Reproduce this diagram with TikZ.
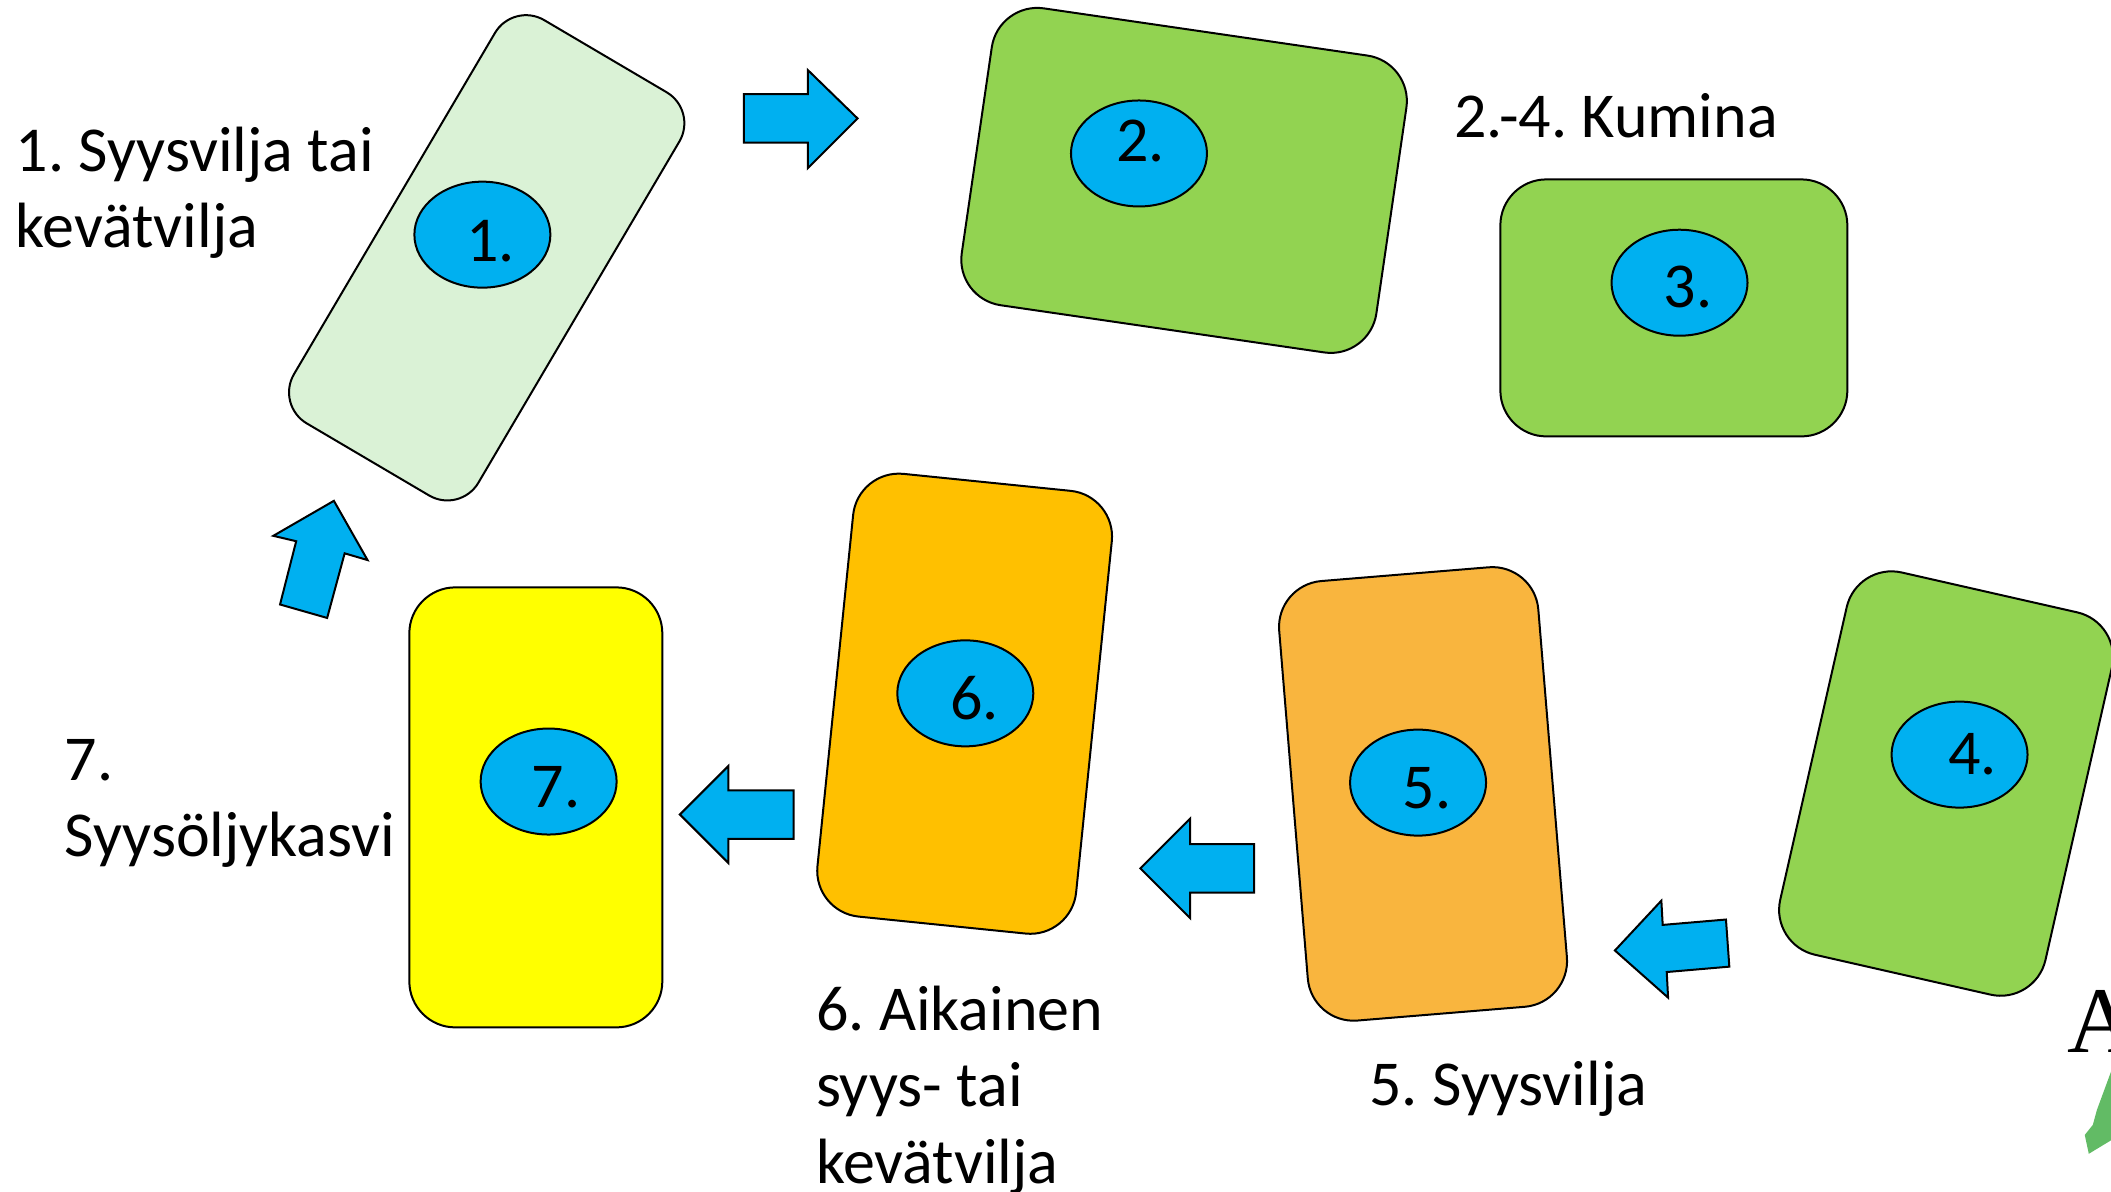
\documentclass[tikz,border=0pt]{standalone}
\usepackage{fontspec}
\setmainfont{Carlito}
\newfontfamily\logofont{Liberation Serif}
\definecolor{cblue}{HTML}{00B0F0}
\definecolor{cpale}{HTML}{DAF2D6}
\definecolor{cgreen}{HTML}{92D351}
\definecolor{corange}{HTML}{F9B53E}
\definecolor{camber}{HTML}{FFC000}
\definecolor{cyel}{HTML}{FFFF00}
\definecolor{clogo}{HTML}{62BB65}
\tikzset{
  field/.style={draw=black,line width=2pt,rounded corners=46pt,inner sep=0pt},
  spot/.style={ellipse,draw=black,line width=2pt,fill=cblue,minimum width=136pt,minimum height=106pt,inner sep=0pt},
  numeral/.style={inner sep=0pt,font=\fontsize{64}{72}\selectfont},
  caption/.style={inner sep=0pt,anchor=north west,align=left,font=\fontsize{64}{76.6}\selectfont},
  blockarrow/.style={draw=black,line width=2pt,fill=cblue,line join=miter}
}
\usetikzlibrary{shapes.geometric}
\begin{document}
\frenchspacing
\begin{tikzpicture}[x=1.34630pt,y=-1.34630pt]
\useasboundingbox (0,0) rectangle (1568,884.65);
\clip (0,0) rectangle (1568,884.65);
% fields
\node[field,fill=cpale,rounded corners=36pt,minimum width=214pt,minimum height=468pt,rotate=-30.5] (f1) at (361.5,191.5) {};
\node[field,fill=cgreen,minimum width=419pt,minimum height=300pt,rotate=-8.3] (f2) at (879.5,134) {};
\node[field,fill=cgreen,minimum width=347pt,minimum height=257pt] (f3) at (1243.3,228.7) {};
\node[field,fill=cgreen,minimum width=272pt,minimum height=392pt,rotate=-12.8] (f4) at (1445.5,582) {};
\node[field,fill=corange,minimum width=260pt,minimum height=441pt,rotate=4.7] (f5) at (1057,589.7) {};
\node[field,fill=camber,minimum width=260pt,minimum height=445pt,rotate=-5.8] (f6) at (716.5,522.7) {};
\node[field,fill=cyel,minimum width=253pt,minimum height=440pt] (f7) at (398,599.7) {};
% spots
\node[spot] (s1) at (358.3,174.3) {};
\node[spot] (s2) at (846,114) {};
\node[spot] (s3) at (1247.5,210) {};
\node[spot] (s4) at (1455.5,560.5) {};
\node[spot] (s5) at (1053.3,581.3) {};
\node[spot] (s6) at (717,515) {};
\node[spot] (s7) at (407.5,580.5) {};
\node[numeral] (n1) at (364.5,179) {1.};
\node[numeral] (n2) at (847,104.5) {2.};
\node[numeral] (n3) at (1254,213.5) {3.};
\node[numeral] (n4) at (1465,560) {4.};
\node[numeral] (n5) at (1060,585.5) {5.};
\node[numeral] (n6) at (724,518.5) {6.};
\node[numeral] (n7) at (413,585) {7.};
% block arrows
\draw[blockarrow] (552.5,70)--(600,70)--(600,52)--(637,88)--(600,125)--(600,106)--(552.5,106)--cycle;
\draw[blockarrow] (248,372)--(273,416)--(256,411)--(243,459)--(208,449)--(220,402)--(203,398)--cycle;
\draw[blockarrow] (505,605)--(541,569)--(541,587)--(589.5,587)--(589.5,623)--(541,623)--(541,641)--cycle;
\draw[blockarrow] (847,645)--(884,608)--(884,627)--(931.5,627)--(931.5,663)--(884,663)--(884,682)--cycle;
\draw[blockarrow] (1199.5,706)--(1234,669)--(1235,687)--(1282,683)--(1284.5,718)--(1238,722)--(1239,741)--cycle;
% captions
\node[caption] (c1) at (11.5,94) {1. Syysvilja tai\\kevätvilja};
\node[caption] (c2) at (1080,69) {2.-4. Kumina};
\node[caption] (c5) at (1017,788) {5. Syysvilja};
\node[caption] (c6) at (606,732) {6. Aikainen\\syys- tai\\kevätvilja};
\node[caption] (c7) at (48,549) {7.\\Syysöljykasvi};
% logo fragment
\node[inner sep=0pt,anchor=base west,font=\logofont\fontsize{94}{94}\selectfont] (logo) at (1535.5,781.5) {A};
\fill[clogo] (1568,796)--(1557.5,824.5)--(1554.5,835.5)--(1548.5,843)--(1551.5,857)--(1568,847)--cycle;
\end{tikzpicture}
\end{document}
